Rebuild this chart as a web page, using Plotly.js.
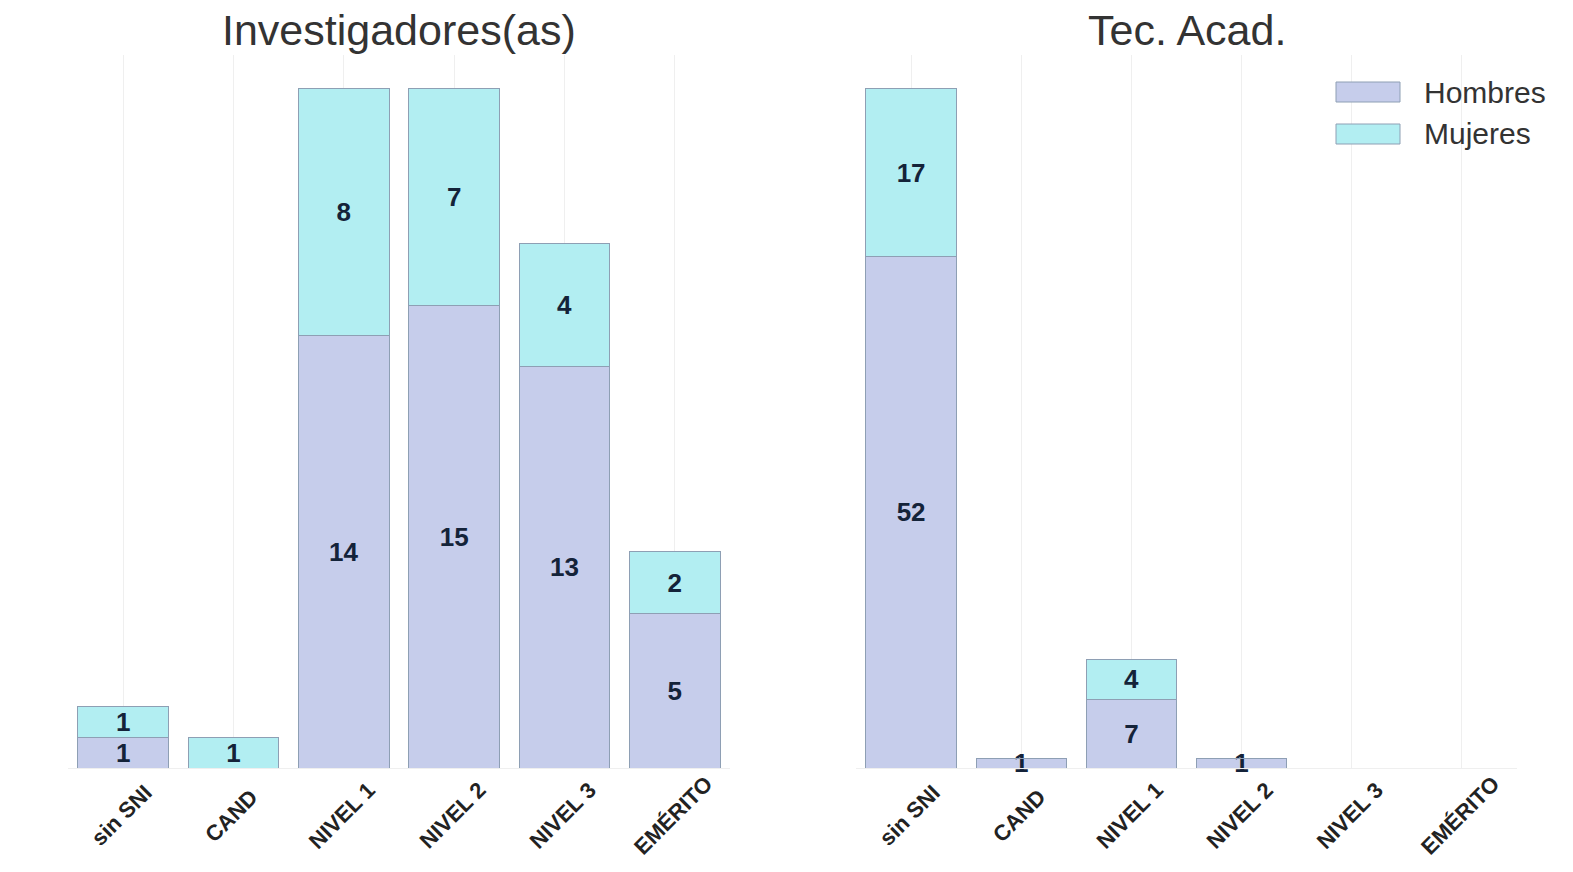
<!DOCTYPE html>
<html>
<head>
<meta charset="utf-8">
<script src="https://cdn.plot.ly/plotly-3.0.1.min.js"></script>
<style>html,body{margin:0;padding:0;background:#fff;}#chart{width:1573px;height:872px;}</style>
</head>
<body>
<div id="chart"></div>
<script>
const categories = ["sin SNI", "CAND", "NIVEL 1", "NIVEL 2", "NIVEL 3", "EMÉRITO"];
const invHombres = [1, 0, 14, 15, 13, 5];
const invMujeres = [1, 1, 8, 7, 4, 2];
const tecHombres = [52, 1, 7, 1, 0, 0];
const tecMujeres = [17, 0, 4, 0, 0, 0];
const panelTitles = ["Investigadores(as)", "Tec. Acad."];
const seriesNames = ["Hombres", "Mujeres"];

const colH = "#c6cdeb";
const colM = "#b2eef2";
const lineCol = "#8e9fb4";
const FONT = "Arial, Liberation Sans, sans-serif";
const txt = v => v.map(x => x === 0 ? "" : String(x));
const textFont = {family: FONT, size: 26, color: "#142339", weight: "bold"};

function bar(y, name, color, xa, ya) {
  return {
    type: "bar", x: categories, y: y, name: name, xaxis: xa, yaxis: ya,
    marker: {color: color, line: {color: lineCol, width: 1}},
    text: txt(y), textposition: "inside", insidetextanchor: "middle", textangle: 0,
    textfont: textFont, showlegend: false, cliponaxis: false,
    hoverinfo: "x+y+name"
  };
}

const data = [
  bar(invHombres, seriesNames[0], colH, "x", "y"),
  bar(invMujeres, seriesNames[1], colM, "x", "y"),
  bar(tecHombres, seriesNames[0], colH, "x2", "y2"),
  bar(tecMujeres, seriesNames[1], colM, "x2", "y2")
];

const maxInv = Math.max(...invHombres.map((v, i) => v + invMujeres[i]));
const maxTec = Math.max(...tecHombres.map((v, i) => v + tecMujeres[i]));

const dom1 = [0.0432, 0.4641];
const dom2 = [0.5442, 0.9644];

const xaxisBase = {
  type: "category", showgrid: true, gridcolor: "#efefef", gridwidth: 1,
  showline: true, linecolor: "#efefef", ticks: "", showticklabels: false,
  zeroline: false, fixedrange: true
};
const yaxisBase = {showgrid: false, zeroline: false, showticklabels: false, ticks: "", showline: false, fixedrange: true};

// plot area: top 55px, bottom 768px
const H = 872, T = 55, B = 104;
const py = px => (H - B - px) / (H - T - B);
const pxx = px => px / 1573;

const annotations = [];
// subplot titles
annotations.push({text: panelTitles[0], xref: "paper", yref: "paper", x: (dom1[0] + dom1[1]) / 2, xanchor: "center", y: py(30), yanchor: "middle", showarrow: false, font: {family: FONT, size: 43, color: "#333"}});
annotations.push({text: panelTitles[1], xref: "paper", yref: "paper", x: (dom2[0] + dom2[1]) / 2, xanchor: "center", y: py(30), yanchor: "middle", showarrow: false, font: {family: FONT, size: 43, color: "#333"}});
// rotated category labels centred under each tick
["x", "x2"].forEach(xr => {
  categories.forEach(c => {
    annotations.push({text: c, xref: xr, yref: "paper", x: c, y: 0, xanchor: "center", yanchor: "middle",
      xshift: -2, yshift: -47, textangle: -45, showarrow: false,
      font: {family: FONT, size: 22, color: "#222", weight: "bold"}});
  });
});
// legend
const legY = [92, 134];
const legColors = [colH, colM];
const shapes = [];
seriesNames.forEach((n, i) => {
  shapes.push({type: "rect", xref: "paper", yref: "paper", x0: pxx(1336), x1: pxx(1400), y0: py(legY[i] + 10), y1: py(legY[i] - 10),
    fillcolor: legColors[i], line: {color: lineCol, width: 1}});
  annotations.push({text: n, xref: "paper", yref: "paper", x: pxx(1422), xanchor: "left", y: py(legY[i]), yanchor: "middle",
    showarrow: false, font: {family: FONT, size: 30, color: "#333"}});
});

const layout = {
  width: 1573, height: 872,
  margin: {l: 0, r: 0, t: T, b: B},
  paper_bgcolor: "#fff", plot_bgcolor: "#fff",
  barmode: "stack", bargap: 0.18,
  uniformtext: {mode: "show", minsize: 26},
  showlegend: false,
  font: {family: FONT, color: "#333"},
  xaxis: Object.assign({}, xaxisBase, {domain: dom1, anchor: "y"}),
  yaxis: Object.assign({}, yaxisBase, {range: [0, maxInv * 1.05], anchor: "x"}),
  xaxis2: Object.assign({}, xaxisBase, {domain: dom2, anchor: "y2"}),
  yaxis2: Object.assign({}, yaxisBase, {range: [0, maxTec * 1.05], anchor: "x2"}),
  annotations: annotations,
  shapes: shapes
};

Plotly.newPlot("chart", data, layout, {displayModeBar: false, staticPlot: true});
</script>
</body>
</html>
